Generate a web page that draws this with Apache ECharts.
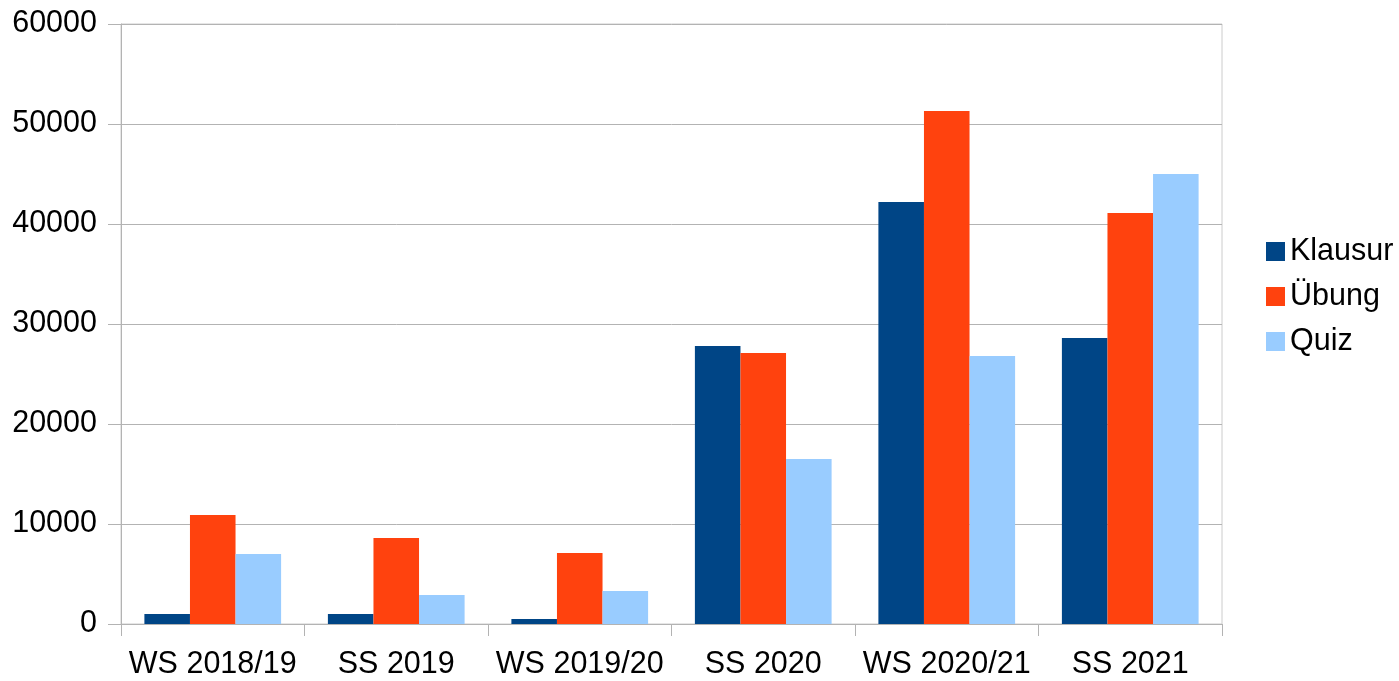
<!DOCTYPE html>
<html>
<head>
<meta charset="utf-8">
<script src="https://cdn.jsdelivr.net/npm/echarts@6/dist/echarts.min.js"></script>
<style>
html,body{margin:0;padding:0;background:#fff;}
#c{width:1399px;height:681px;}
</style>
</head>
<body>
<div id="c"></div>
<script>
const categories = ['WS 2018/19', 'SS 2019', 'WS 2019/20', 'SS 2020', 'WS 2020/21', 'SS 2021'];
const klausur = [1000, 1000, 500, 27800, 42200, 28600];
const uebung = [10900, 8600, 7100, 27100, 51300, 41100];
const quiz = [7000, 2900, 3300, 16500, 26800, 45000];
const seriesNames = ['Klausur', 'Übung', 'Quiz'];
const colors = ['#004586', '#ff420e', '#99ccff'];

const chart = echarts.init(document.getElementById('c'), null, {renderer: 'canvas'});
const font = 'Liberation Sans';
const mk = (name, data, color) => ({
  name: name, type: 'bar', data: data, barGap: '0%', barCategoryGap: '25.5%',
  itemStyle: {color: color}, animation: false
});
chart.setOption({
  animation: false,
  textStyle: {fontFamily: font},
  grid: {left: 121, right: 177, top: 24, bottom: 57, show: true, borderColor: '#cccccc', borderWidth: 1},
  legend: {
    orient: 'vertical', left: 1261, top: 231,
    itemWidth: 19, itemHeight: 19, itemGap: 14,
    icon: 'rect',
    data: seriesNames,
    textStyle: {fontFamily: font, fontSize: 30.5, color: '#000', lineHeight: 28, padding: [0,0,0,0]}
  },
  xAxis: {
    type: 'category', data: categories,
    axisLine: {lineStyle: {color: '#b3b3b3', width: 1}},
    axisTick: {show: true, length: 12, lineStyle: {color: '#b3b3b3'}},
    axisLabel: {fontFamily: font, fontSize: 30.5, color: '#000', margin: 25, interval: 0}
  },
  yAxis: {
    type: 'value', min: 0, max: 60000, interval: 10000,
    axisLine: {show: true, lineStyle: {color: '#b3b3b3', width: 1}},
    axisTick: {show: true, length: 13, lineStyle: {color: '#b3b3b3'}},
    splitLine: {lineStyle: {color: '#b3b3b3', width: 1}},
    axisLabel: {fontFamily: font, fontSize: 30.5, color: '#000', margin: 24, padding: [3,0,0,0], formatter: v => String(v)}
  },
  series: [mk(seriesNames[0], klausur, colors[0]), mk(seriesNames[1], uebung, colors[1]), mk(seriesNames[2], quiz, colors[2])]
});
</script>
</body>
</html>
